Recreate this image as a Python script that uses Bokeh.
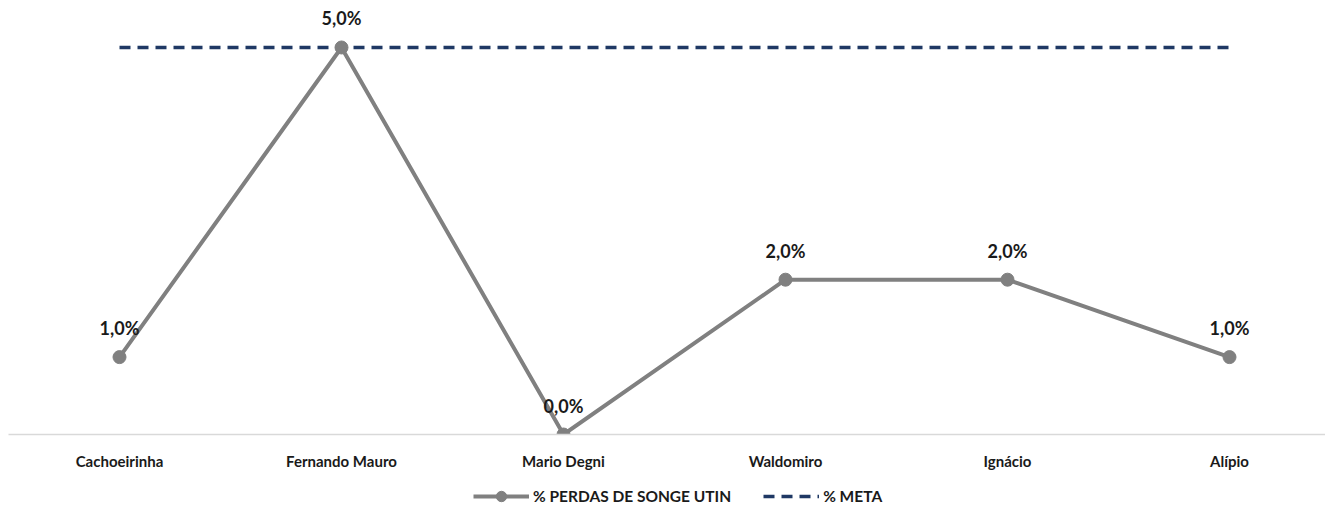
from bokeh.plotting import figure
from bokeh.layouts import column
from bokeh.models import ColumnDataSource, FixedTicker, Legend, LegendItem, Range1d, LabelSet
from bokeh.core.properties import value
from bokeh.embed import file_html
from bokeh.resources import INLINE

categories = ["Cachoeirinha", "Fernando Mauro", "Mario Degni", "Waldomiro", "Ignácio", "Alípio"]
perdas = [1.0, 5.0, 0.0, 2.0, 2.0, 1.0]
meta = [5.0, 5.0, 5.0, 5.0, 5.0, 5.0]

FONT = "Lato"
GRAY = "#808080"
NAVY = "#1f3864"
x = list(range(len(categories)))
src = ColumnDataSource(dict(
    x=x,
    perdas=perdas,
    meta=meta,
    label=[f"{v:.1f}%".replace(".", ",") for v in perdas],
))

p = figure(
    width=1325, frame_width=1317, frame_height=434,
    x_range=Range1d(-0.5, -0.5 + 1317 / 222),
    y_range=Range1d(0, 5.607),
    output_backend="svg", toolbar_location=None,
    min_border_left=8, min_border_right=0, min_border_top=0, min_border_bottom=48,
    outline_line_color=None,
)
p.grid.visible = False
p.yaxis.visible = False

ax = p.xaxis[0]
ax.ticker = FixedTicker(ticks=x)
ax.major_label_overrides = {i: c for i, c in enumerate(categories)}
ax.major_tick_line_color = None
ax.minor_tick_line_color = None
ax.major_tick_out = 0
ax.major_tick_in = 0
ax.axis_line_color = "#d9d9d9"
ax.axis_line_width = 1.5
ax.major_label_standoff = 17
ax.major_label_text_font = FONT
ax.major_label_text_font_style = "bold"
ax.major_label_text_font_size = "15px"
ax.major_label_text_color = "#1a1a1a"

p.line("x", "meta", source=src, line_color=NAVY, line_width=3.5, line_dash="11 7")
p.line("x", "perdas", source=src, line_color=GRAY, line_width=4)
p.scatter("x", "perdas", source=src, size=13, fill_color=GRAY, line_color=GRAY)

labels = LabelSet(x="x", y="perdas", text="label", source=src, y_offset=29,
                  text_align="center", text_baseline="middle",
                  text_font=value(FONT), text_font_style="bold", text_font_size="18px",
                  text_color="#1a1a1a")
p.add_layout(labels)

# legend strip under the chart; the stand-in glyphs sit outside the visible range
leg = figure(
    width=1325, height=27, x_range=Range1d(0, 1), y_range=Range1d(0, 1),
    output_backend="svg", toolbar_location=None,
    min_border_left=0, min_border_right=0, min_border_top=0, min_border_bottom=0,
    outline_line_color=None,
)
leg.axis.visible = False
leg.grid.visible = False
offscreen = ColumnDataSource(dict(x=[-5, -4], y=[-5, -5]))
g_line = leg.line("x", "y", source=offscreen, line_color=GRAY, line_width=4)
g_pts = leg.scatter("x", "y", source=offscreen, size=11, fill_color=GRAY, line_color=GRAY)
g_meta = leg.line("x", "y", source=offscreen, line_color=NAVY, line_width=3.5, line_dash="11 7")

legend = Legend(
    items=[
        LegendItem(label="% PERDAS DE SONGE UTIN", renderers=[g_line, g_pts]),
        LegendItem(label="% META", renderers=[g_meta]),
    ],
    orientation="horizontal", location=(465, 0),
    glyph_width=56, glyph_height=26, spacing=32, padding=0, margin=0,
    label_standoff=4,
    label_text_font=FONT, label_text_font_style="bold", label_text_font_size="15.5px",
    label_text_color="#1a1a1a", border_line_color=None, background_fill_alpha=0,
)
leg.add_layout(legend)

open("out.html", "w").write(file_html(column(p, leg, spacing=0), INLINE))
